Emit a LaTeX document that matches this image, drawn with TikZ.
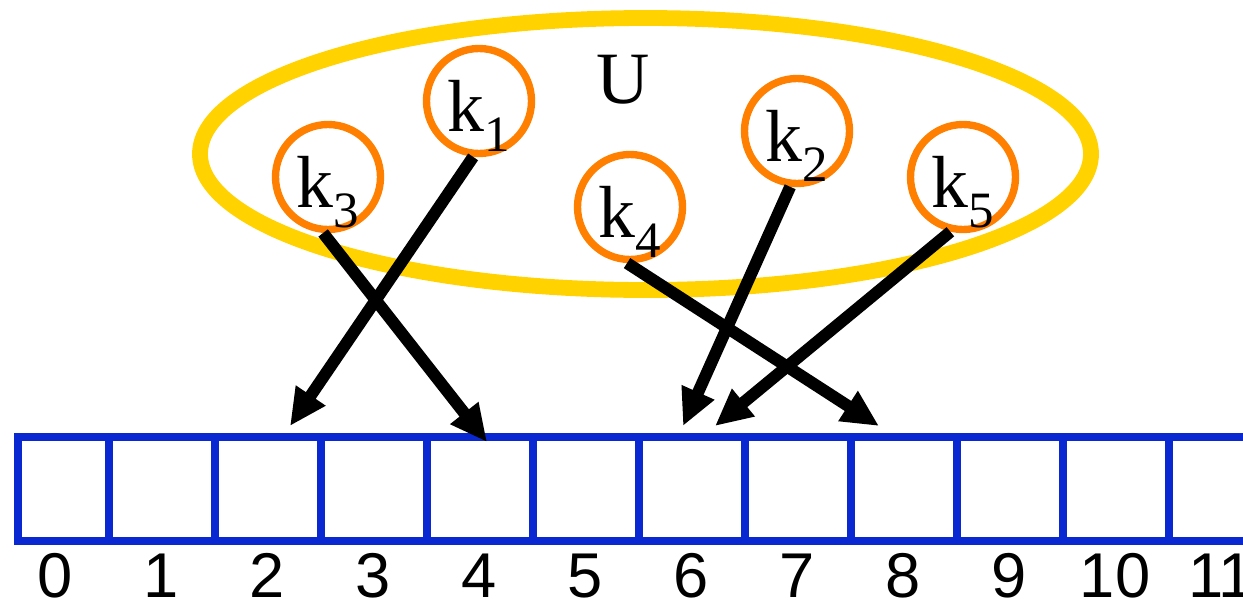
\documentclass[tikz,border=0pt]{standalone}
\usepackage{fontspec}
\setmainfont{Liberation Serif}
\newfontfamily\digitfont{Liberation Sans}
\usetikzlibrary{arrows.meta}
\definecolor{univc}{RGB}{255,210,0}
\definecolor{keyc}{RGB}{255,128,0}
\definecolor{slotc}{RGB}{10,40,210}
\newcommand{\keyname}[1]{k\raisebox{-11pt}{\fontsize{29}{30}\selectfont #1}}
\tikzset{
  univ/.style={draw=univc,line width=9pt},
  key/.style={circle,draw=keyc,line width=4.2pt,minimum size=21mm,inner sep=0pt,
    font=\fontsize{42}{44}\selectfont,text height=40pt,text depth=4.8pt},
  slot/.style={draw=slotc,line width=4.5pt},
  % hash arrows; they end on named targets just above the table
  hash/.style={-{Triangle[length=21pt,width=19pt]},line width=6.8pt,black},
  idx/.style={font=\digitfont\fontsize{36}{40}\selectfont,anchor=base,inner sep=0pt},
}
\begin{document}
\begin{tikzpicture}[x=0.2mm,y=-0.2mm]
  \useasboundingbox (0,0) rectangle (1243,604);
  % ---- the universe U of keys ----
  \draw[univ] (645.5,154) ellipse [x radius=445.5,y radius=136];
  \node[font=\fontsize{42}{44}\selectfont,anchor=base] (U) at (623,103) {U};
  \node[key] (k1) at (479,101) {\keyname{1}};
  \node[key] (k2) at (797,131) {\keyname{2}};
  \node[key] (k3) at (328,177) {\keyname{3}};
  \node[key] (k4) at (630,207) {\keyname{4}};
  \node[key] (k5) at (963,177) {\keyname{5}};
  % ---- the table, slots 0..11 ----
  \draw[slot,line join=miter] (1243,437) -- (18,437) -- (18,541) -- (1243,541);
  \foreach \i in {0,...,10} \draw[slot] (109+106*\i,437) -- (109+106*\i,541);
  \foreach \i in {0,...,11} \node[idx] (n\i) at (55+106*\i,597) {\i};
  % ---- where each key lands ----
  \coordinate (h1) at (290,426);
  \coordinate (h3) at (487,442);
  \coordinate (h2) at (683,426);
  \coordinate (h5) at (715,426);
  \coordinate (h4) at (879,426);
  \draw[hash] (k1.264) -- (h1);
  \draw[hash] (k3.265) -- (h3);
  \draw[hash] (k4.267) -- (h4);
  \draw[hash] (k2.263) -- (h2);
  \draw[hash] (k5.257) -- (h5);
\end{tikzpicture}
\end{document}
